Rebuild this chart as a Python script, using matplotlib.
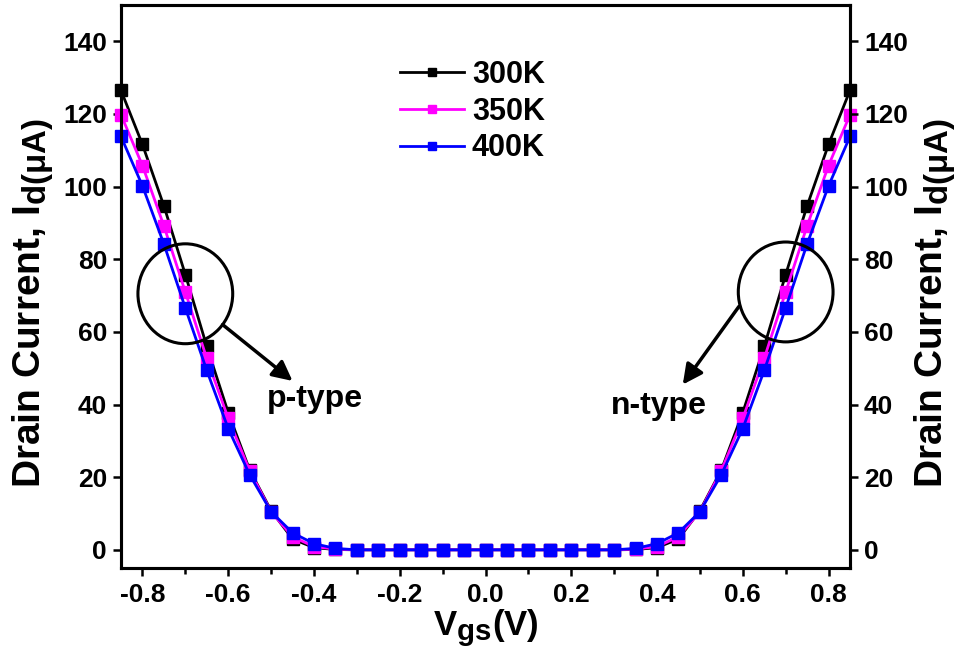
import matplotlib
matplotlib.use("Agg")
import matplotlib.pyplot as plt
import matplotlib._mathtext as _mt
from matplotlib.patches import Ellipse
from matplotlib.ticker import MultipleLocator

_mt.SHRINK_FACTOR = 0.85

plt.rcParams['font.family'] = ['Liberation Sans', 'DejaVu Sans']
plt.rcParams['font.weight'] = 'bold'
plt.rcParams['mathtext.fontset'] = 'custom'
plt.rcParams['mathtext.rm'] = 'Liberation Sans'
plt.rcParams['mathtext.bf'] = 'Liberation Sans:bold'
plt.rcParams['mathtext.it'] = 'Liberation Sans:italic:bold'

vgs = [-0.85, -0.80, -0.75, -0.70, -0.65, -0.60, -0.55, -0.50, -0.45, -0.40, -0.35,
       -0.30, -0.25, -0.20, -0.15, -0.10, -0.05, 0.00, 0.05, 0.10, 0.15, 0.20, 0.25, 0.30,
       0.35, 0.40, 0.45, 0.50, 0.55, 0.60, 0.65, 0.70, 0.75, 0.80, 0.85]
id_300 = [126.5, 111.6, 94.7, 75.8, 56.0, 37.8, 22.0, 10.8, 3.0, 0.6, 0.1,
          0, 0, 0, 0, 0, 0, 0, 0, 0, 0, 0, 0, 0,
          0.1, 0.6, 3.0, 10.8, 22.0, 37.8, 56.0, 75.8, 94.7, 111.6, 126.5]
id_350 = [119.8, 105.8, 89.2, 71.0, 52.7, 36.2, 21.8, 10.5, 3.6, 0.9, 0.2,
          0, 0, 0, 0, 0, 0, 0, 0, 0, 0, 0, 0, 0,
          0.2, 0.9, 3.6, 10.5, 21.8, 36.2, 52.7, 71.0, 89.2, 105.8, 119.8]
id_400 = [113.8, 100.2, 84.2, 66.6, 49.4, 33.4, 20.7, 10.5, 4.7, 1.7, 0.4,
          0, 0, 0, 0, 0, 0, 0, 0, 0, 0, 0, 0, 0,
          0.4, 1.7, 4.7, 10.5, 20.7, 33.4, 49.4, 66.6, 84.2, 100.2, 113.8]
labels = ["300K", "350K", "400K"]
colors = ["#000000", "#ff00ff", "#0000ff"]
xticks = [-0.8, -0.6, -0.4, -0.2, 0.0, 0.2, 0.4, 0.6, 0.8]
xticklabels = ["-0.8", "-0.6", "-0.4", "-0.2", "0.0", "0.2", "0.4", "0.6", "0.8"]
yticks = [0, 20, 40, 60, 80, 100, 120, 140]

fig = plt.figure(figsize=(9.6, 6.5), dpi=100)
ax = fig.add_axes([121/960, 82/650, 729/960, 563/650])

for ys, lab, c in zip([id_300, id_350, id_400], labels, colors):
    ax.plot(vgs, ys, '-s', color=c, lw=2.0, ms=8.5, label=lab, clip_on=False, zorder=3)

ax.set_xlim(-0.85, 0.85)
ax.set_ylim(-5, 150)
ax.set_xticks(xticks)
ax.set_xticklabels(xticklabels)
ax.xaxis.set_minor_locator(MultipleLocator(0.1))
ax.set_yticks(yticks)

for s in ax.spines.values():
    s.set_linewidth(2.2)
ax.tick_params(axis='x', which='major', direction='out', length=6, width=1.8,
               labelsize=19, pad=5)
ax.tick_params(axis='y', which='major', direction='out', length=6, width=1.8,
               labelsize=19, pad=4)
ax.tick_params(axis='x', which='minor', direction='out', length=4, width=1.8)
ax.tick_params(axis='y', which='minor', left=False)

ax2 = ax.twinx()
ax2.set_ylim(-5, 150)
ax2.set_yticks(yticks)
ax2.tick_params(axis='y', direction='out', length=6, width=1.8, labelsize=19, pad=4)
for s in ax2.spines.values():
    s.set_linewidth(2.2)

ylab = r"Drain Current, I$_{\mathbf{d}\mathrm{(\mu A)}}$"
ax.set_ylabel(ylab, fontsize=28, fontweight='bold')
ax2.set_ylabel(ylab, fontsize=28, fontweight='bold', rotation=90)
ax.yaxis.set_label_coords(-0.089, 0.47)
ax2.yaxis.set_label_coords(1.086, 0.47)
ax.set_xlabel(r"V$_{\mathbf{gs}}$(V)", fontsize=25, fontweight='bold', labelpad=0)

leg = ax.legend(loc='upper left', bbox_to_anchor=(400/960, 1 - 60/650),
                bbox_transform=fig.transFigure, frameon=False, fontsize=22,
                handlelength=2.1, handletextpad=0.25, labelspacing=0.22,
                borderpad=0, borderaxespad=0, markerscale=0.6)

for cx, cy in [(-0.70, 70.5), (0.70, 71.0)]:
    ax.add_patch(Ellipse((cx, cy), width=0.221, height=27.5, fill=False,
                         edgecolor='black', lw=2.2, zorder=4))

ax.annotate('', xy=(-0.45, 46.5), xytext=(-0.613, 62.0),
            arrowprops=dict(arrowstyle='-|>', color='black', lw=2.5,
                            mutation_scale=30, shrinkA=0, shrinkB=0))
ax.annotate('', xy=(0.46, 45.5), xytext=(0.591, 67.0),
            arrowprops=dict(arrowstyle='-|>', color='black', lw=2.5,
                            mutation_scale=30, shrinkA=0, shrinkB=0))

ax.text(-0.397, 41.5, "p-type", fontsize=23, fontweight='bold', ha='center', va='center')
ax.text(0.404, 39.5, "n-type", fontsize=23, fontweight='bold', ha='center', va='center')

fig.savefig("out.png", dpi=100)
